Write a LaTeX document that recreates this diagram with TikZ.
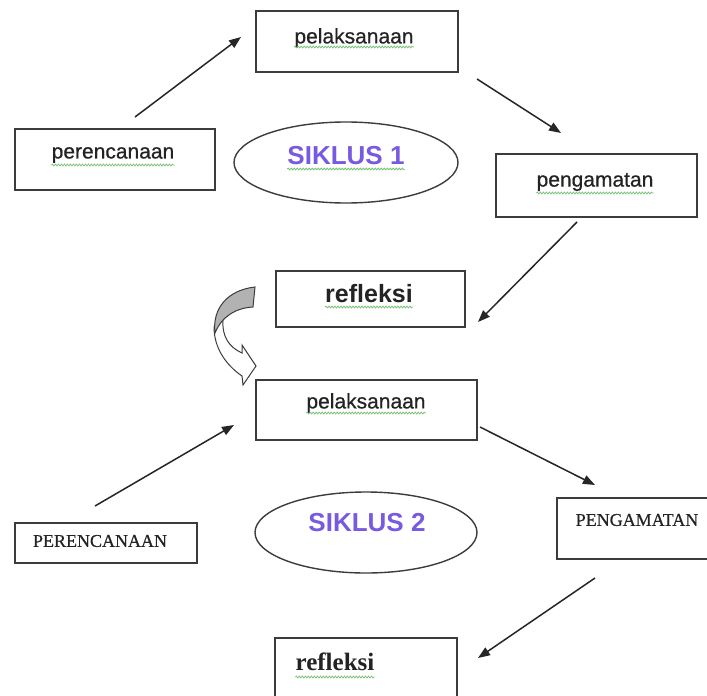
\documentclass[tikz,border=0pt]{standalone}
\usepackage{fontspec}
\setmainfont{Liberation Serif}
\newfontfamily\arialf[FakeBold=0.6]{Liberation Sans}
\newfontfamily\arialb{Liberation Sans}
\newfontfamily\timesf[FakeBold=0.4]{Liberation Serif}
\usetikzlibrary{arrows.meta,decorations.pathmorphing,shapes.geometric}
\definecolor{linec}{RGB}{60,60,60}
\definecolor{purp}{RGB}{120,90,225}
\definecolor{wavyg}{RGB}{120,195,120}
\definecolor{txt}{RGB}{35,35,35}
\begin{document}
\begin{tikzpicture}[x=1bp,y=-1bp,
  box/.style={draw=linec,line width=1.6bp,rectangle,inner sep=0pt,fill=white},
  sanslbl/.style={inner sep=0pt,text=txt,font=\arialf\fontsize{21bp}{24bp}\selectfont},
  sansbold/.style={inner sep=0pt,text=txt,font=\arialb\bfseries\fontsize{25bp}{28bp}\selectfont},
  siklus/.style={inner sep=0pt,text=purp,font=\arialb\bfseries\fontsize{26bp}{29bp}\selectfont},
  seriflbl/.style={inner sep=0pt,text=txt,font=\timesf\fontsize{18bp}{20bp}\selectfont},
  serifbold/.style={inner sep=0pt,text=txt,font=\bfseries\fontsize{25bp}{28bp}\selectfont},
  arr/.style={draw=black!85,line width=1.5bp,-{Triangle[length=12bp,width=9bp]}},
  oval/.style={draw=linec,line width=1.4bp,ellipse,inner sep=0pt},
  wavy/.style={draw=wavyg,line width=0.8bp,decorate,decoration={snake,segment length=3bp,amplitude=0.9bp}},
]
\clip (0,0) rectangle (707,696);
\fill[white] (0,0) rectangle (707,696);

% ---------- SIKLUS 1 ----------
\node[box,minimum width=202bp,minimum height=61bp] (p1) at (357,41.5) {};
\node[sanslbl] (tp1) at (354,38) {pelaksanaan};
\node[box,minimum width=200bp,minimum height=61bp] (r1) at (115,159.5) {};
\node[sanslbl] (tr1) at (113,155) {perencanaan};
\node[box,minimum width=201bp,minimum height=63bp] (g1) at (596.5,185.5) {};
\node[sanslbl] (tg1) at (595,182) {pengamatan};
\node[box,minimum width=189bp,minimum height=56bp] (f1) at (370.5,299) {};
\node[sansbold] (tf1) at (369,294) {refleksi};
\node[oval,minimum width=224bp,minimum height=81bp] (e1) at (346,162.5) {};
\node[siklus] (ts1) at (346,156) {SIKLUS 1};

\draw[wavy] (tp1.west |- 0,47) -- (tp1.east |- 0,47);
\draw[wavy] (tr1.west |- 0,165) -- (tr1.east |- 0,165);
\draw[wavy] (tg1.west |- 0,193) -- (tg1.east |- 0,193);
\draw[wavy] (tf1.west |- 0,307) -- (tf1.east |- 0,307);
\draw[wavy] (ts1.west |- 0,169) -- (ts1.east |- 0,169);

\coordinate (a1s) at (135,117); \coordinate (a1e) at (241,37);
\coordinate (a2s) at (477,79);  \coordinate (a2e) at (561,133);
\coordinate (a3s) at (577,222); \coordinate (a3e) at (478,322);
\draw[arr] (a1s) -- (a1e);
\draw[arr] (a2s) -- (a2e);
\draw[arr] (a3s) -- (a3e);

% ---------- curved block arrow ----------
\draw[linec,line width=1bp,fill=white]
  (214,327) .. controls (214,348) and (226,365) .. (242,376)
  -- (243,385) -- (256,366) -- (242,345) -- (242,353)
  .. controls (229,347) and (222,337) .. (223,320) -- cycle;
\draw[linec,line width=1bp,fill=black!30]
  (255,287) .. controls (228,290) and (212,308) .. (215,333)
  .. controls (222,316) and (236,308) .. (253,307) -- cycle;

% ---------- SIKLUS 2 ----------
\node[box,minimum width=221bp,minimum height=60bp] (p2) at (366.5,410) {};
\node[sanslbl] (tp2) at (366,403) {pelaksanaan};
\node[box,minimum width=182bp,minimum height=40bp] (r2) at (106,543) {};
\node[seriflbl] (tr2) at (100,541) {PERENCANAAN};
\node[box,minimum width=163bp,minimum height=61bp] (g2) at (638.5,528.5) {};
\node[seriflbl] (tg2) at (637,520) {PENGAMATAN};
\node[box,minimum width=182bp,minimum height=82bp] (f2) at (366,679) {};
\node[serifbold] (tf2) at (335,662) {refleksi};
\node[oval,minimum width=222bp,minimum height=81bp] (e2) at (366,532.5) {};
\node[siklus] (ts2) at (367,523) {SIKLUS 2};

\draw[wavy] (tp2.west |- 0,413) -- (tp2.east |- 0,413);
\draw[wavy] (tf2.west |- 0,677) -- (tf2.east |- 0,677);

\coordinate (a4s) at (95,506);  \coordinate (a4e) at (234,425);
\coordinate (a5s) at (480,427); \coordinate (a5e) at (595,485);
\coordinate (a6s) at (595,578); \coordinate (a6e) at (478,658);
\draw[arr] (a4s) -- (a4e);
\draw[arr] (a5s) -- (a5e);
\draw[arr] (a6s) -- (a6e);
\end{tikzpicture}
\end{document}
